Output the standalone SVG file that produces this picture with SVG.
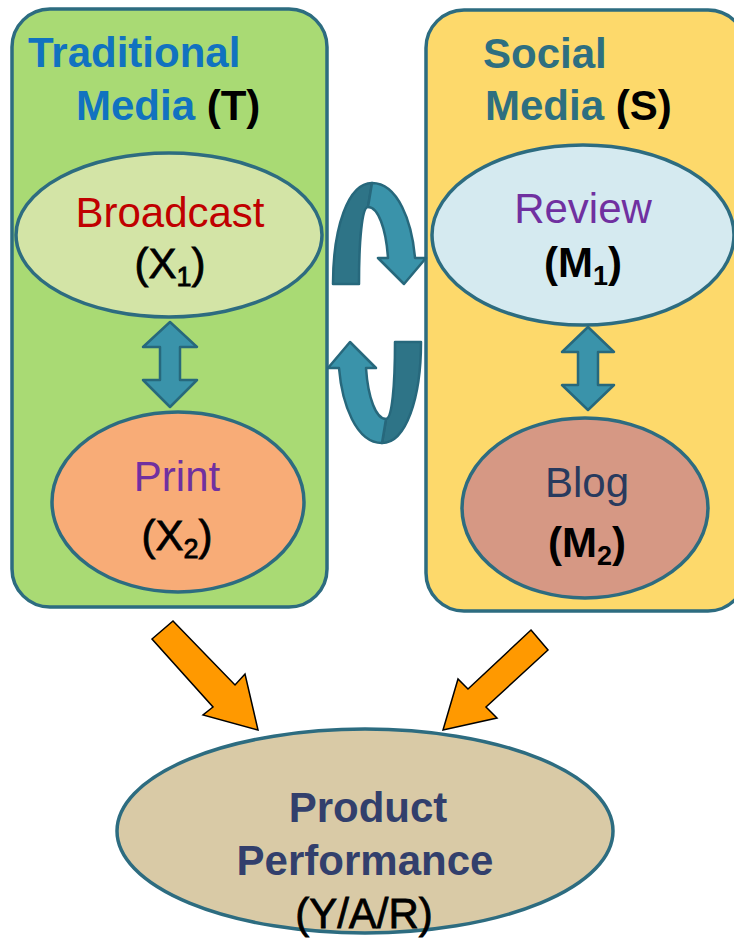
<svg xmlns="http://www.w3.org/2000/svg" width="734" height="938" viewBox="0 0 734 938">
<style>
  text { font-family: "Liberation Sans", Arial, sans-serif; font-size: 42px; text-anchor: middle; }
  .b { font-weight: bold; }
  .semi { stroke: #000; stroke-width: 0.8; }
  .panel { stroke: #2D6C80; stroke-width: 3.5; }
  .ell { stroke: #2D6C80; stroke-width: 3.5; }
  .dark { fill: #2E7487; stroke: #27687C; stroke-width: 2.5; stroke-linejoin: round; }
  .light { fill: #3A93AA; stroke: #27687C; stroke-width: 2.5; stroke-linejoin: round; }
  .orange { fill: #FF9900; stroke: #000; stroke-width: 1.5; stroke-linejoin: miter; }
  .sub { font-size: 27px; }
</style>
<rect width="734" height="938" fill="#fff"/>

<g id="traditional-media">
  <rect class="panel" x="12" y="9" width="315" height="598" rx="38" fill="#A9DA74"/>
  <text x="28" y="67" class="b" fill="#1172C0" style="text-anchor:start">Traditional</text>
  <text x="76" y="120" class="b" style="text-anchor:start"><tspan fill="#1172C0">Media</tspan><tspan fill="#000"> (T)</tspan></text>
</g>

<g id="social-media">
  <rect class="panel" x="426" y="10" width="320" height="601" rx="38" fill="#FDD96B"/>
  <text x="483" y="68" class="b" fill="#2E6F80" style="text-anchor:start">Social</text>
  <text x="485" y="120" class="b" style="text-anchor:start"><tspan fill="#2E6F80">Media</tspan><tspan fill="#000"> (S)</tspan></text>
</g>

<g id="broadcast">
  <ellipse class="ell" cx="169" cy="235" rx="153" ry="82" fill="#D3E4A6"/>
  <text x="170" y="227" fill="#C00000">Broadcast</text>
  <text x="170" y="278" class="semi" fill="#000">(X<tspan class="sub" dy="8">1</tspan><tspan dy="-8">)</tspan></text>
</g>

<g id="print">
  <ellipse class="ell" cx="178" cy="502" rx="126" ry="90" fill="#F8AC77"/>
  <text x="177" y="491" fill="#7030A0">Print</text>
  <text x="177" y="550" class="semi" fill="#000">(X<tspan class="sub" dy="8">2</tspan><tspan dy="-8">)</tspan></text>
</g>

<g id="review">
  <ellipse class="ell" cx="583" cy="235" rx="151" ry="90" fill="#D5EAF0"/>
  <text x="583" y="223" fill="#7030A0">Review</text>
  <text x="583" y="277" class="b" fill="#000">(M<tspan class="sub" dy="8">1</tspan><tspan dy="-8">)</tspan></text>
</g>

<g id="blog">
  <ellipse class="ell" cx="585" cy="508" rx="123" ry="90" fill="#D69884"/>
  <text x="587" y="497" fill="#283A5E">Blog</text>
  <text x="587" y="557" class="b" fill="#000">(M<tspan class="sub" dy="8">2</tspan><tspan dy="-8">)</tspan></text>
</g>

<g id="product-performance">
  <ellipse class="ell" cx="365" cy="831" rx="248" ry="102" fill="#D9CAA6"/>
  <text x="368" y="822" class="b" font-size="43" fill="#323F6C">Product</text>
  <text x="365" y="875" class="b" font-size="43" fill="#323F6C">Performance</text>
  <text x="364" y="928" font-size="43" class="semi" fill="#000">(Y/A/R)</text>
</g>

<g id="connectors">
  <!-- double arrows -->
  <path class="light" d="M170 322 L197 347 L180 347 L180 380 L197 380 L170 407 L143 380 L160 380 L160 347 L143 347 Z"/>
  <path class="light" d="M588 327 L614 352 L598 352 L598 385 L614 385 L588 410 L562 385 L578 385 L578 352 L562 352 Z"/>
  <!-- cyclic arrows -->
  <g id="cycle-top">
    <path class="dark" d="M333 284 C333 228 348 183 372 183 L368 207 C362 207 359 240 359 284 Z"/>
    <path class="light" d="M372 183 C398 183 412 222 415 258 L426 258 L404 284 L378 258 L388 258 C386 228 378 207 368 207 Z"/>
  </g>
  <g id="cycle-bottom" transform="rotate(180 377 313)">
    <path class="dark" d="M333 284 C333 228 348 183 372 183 L368 207 C362 207 359 240 359 284 Z"/>
    <path class="light" d="M372 183 C398 183 412 222 415 258 L426 258 L404 284 L378 258 L388 258 C386 228 378 207 368 207 Z"/>
  </g>
  <!-- orange arrows -->
  <polygon class="orange" points="173,621 235,685 245,674 258,730 203,715 213,707 152,639"/>
  <polygon class="orange" points="531,630 548,650 486,707 497,718 443,730 458,679 468,689"/>
</g>
</svg>
